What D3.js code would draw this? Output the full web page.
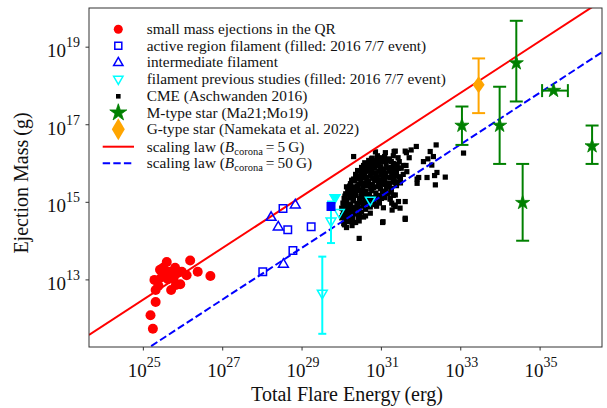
<!DOCTYPE html>
<html><head><meta charset="utf-8">
<script src="https://cdn.jsdelivr.net/npm/d3@7"></script>
<style>
html,body{margin:0;padding:0;background:#fff;}
svg text{font-family:"Liberation Serif","DejaVu Serif",serif;}
</style></head>
<body><svg id="c" width="607" height="408"></svg>
<script>
// ---- data (log10 values) ----
const qrLogE = [25.59,26.18,26.37,26.69,25.97,26.09,25.65,25.28,25.46,25.76,25.62,25.93,25.70,25.31,25.38,25.31,25.18,25.24,25.80,25.50,25.82,25.42,25.86,25.55];
const qrLogM = [13.46,13.50,13.21,13.10,13.21,13.12,13.21,13.00,13.07,13.04,13.02,12.89,12.74,12.74,12.85,12.43,12.09,11.74,13.31,13.31,12.87,13.26,13.18,13.12];

const arfLogE = [28.52,28.64,29.23,28.77,28.01];
const arfLogM = [14.84,14.29,14.37,13.76,13.21];
const arfFilledLogE = [29.73];
const arfFilledLogM = [14.89];

const intLogE = [28.83,28.22,28.40,28.53];
const intLogM = [14.93,14.61,14.36,13.40];

const prevLogE = [29.73,29.94,30.72,29.51];
const prevLogM = [14.52,14.74,15.06,12.66];
const prevErrLo = [13.95,null,null,11.61];
const prevErrHi = [15.02,null,null,13.60];
const prevFilledLogE = [29.83];
const prevFilledLogM = [15.12];

const cmePoints = [
[30.75,16.12],[30.9,16.2],[31.0,16.15],[31.1,16.28],[31.2,16.12],[31.3,16.2],[31.42,16.15],[30.85,16.3],
[30.5,15.9],[30.58,16.02],[30.65,15.85],[30.72,15.97],[30.8,16.05],[30.84,15.88],[30.92,15.95],[31.0,16.05],[31.05,15.86],[31.12,15.98],[31.18,16.08],[31.24,15.9],[31.3,16.0],[31.38,15.87],[31.45,16.05],[31.55,15.95],[30.62,15.95],[30.98,15.92],[31.33,15.92],[30.75,15.84],[31.5,15.88],[30.88,16.08],
[30.3,15.6],[30.35,15.72],[30.42,15.62],[30.48,15.78],[30.52,15.66],[30.58,15.74],[30.63,15.6],[30.68,15.8],[30.72,15.68],[30.78,15.62],[30.83,15.76],[30.88,15.66],[30.94,15.8],[30.99,15.7],[31.04,15.6],[31.1,15.75],[31.15,15.65],[31.2,15.8],[31.26,15.7],[31.32,15.6],[31.38,15.76],[31.45,15.66],[31.55,15.72],[30.4,15.82],[30.9,15.58],[31.0,15.82],
[30.18,15.35],[30.22,15.48],[30.28,15.4],[30.33,15.55],[30.38,15.36],[30.43,15.47],[30.48,15.56],[30.53,15.38],[30.58,15.5],[30.63,15.42],[30.68,15.55],[30.73,15.34],[30.78,15.46],[30.83,15.56],[30.88,15.4],[30.93,15.5],[30.98,15.35],[31.03,15.47],[31.08,15.56],[31.13,15.4],[31.18,15.5],[31.25,15.36],[31.3,15.52],[31.38,15.43],[31.48,15.5],[30.25,15.57],[30.7,15.45],[31.0,15.58],
[30.06,15.1],[30.1,15.22],[30.15,15.3],[30.2,15.12],[30.25,15.24],[30.3,15.08],[30.35,15.18],[30.4,15.3],[30.45,15.1],[30.5,15.22],[30.55,15.14],[30.6,15.28],[30.65,15.08],[30.7,15.2],[30.76,15.3],[30.8,15.12],[30.86,15.24],[30.92,15.08],[30.97,15.18],[31.03,15.28],[31.08,15.12],[31.15,15.22],[31.22,15.08],[31.3,15.18],[30.12,15.05],[30.58,15.06],
[30.0,14.85],[30.03,14.98],[30.08,14.9],[30.13,15.02],[30.18,14.82],[30.23,14.94],[30.28,15.04],[30.33,14.86],[30.38,14.97],[30.43,14.84],[30.48,15.0],[30.53,14.9],[30.6,14.82],[30.66,14.98],[30.72,14.88],[30.8,15.02],[30.88,14.9],[30.95,14.98],[31.05,14.86],[30.1,14.8],
[30.0,14.6],[30.04,14.72],[30.1,14.58],[30.15,14.68],[30.22,14.78],[30.28,14.6],[30.35,14.7],[30.42,14.58],[30.5,14.75],[30.6,14.65],[30.72,14.72],[30.08,14.78],
[30.05,14.45],[30.12,14.35],[30.18,14.5],[30.26,14.4],[30.35,14.48],[30.44,14.52],
[30.55,15.95],[30.68,16.08],[30.95,16.1],[31.08,16.18],[31.25,16.05],[31.4,15.98],[30.45,15.68],[30.6,15.64],[30.75,15.75],[30.86,15.7],[31.06,15.7],[31.22,15.64],[31.35,15.68],[31.48,15.6],
[30.2,15.42],[30.4,15.42],[30.55,15.44],[30.65,15.5],[30.8,15.38],[30.95,15.44],[31.1,15.46],[31.2,15.42],[31.35,15.5],
[30.08,15.16],[30.22,15.2],[30.33,15.25],[30.48,15.16],[30.62,15.18],[30.75,15.1],[30.9,15.16],[31.0,15.1],[31.12,15.3],[31.25,15.26],
[30.05,14.92],[30.16,14.92],[30.26,14.86],[30.4,14.9],[30.55,14.96],[30.7,14.96],[30.84,14.94],
[30.02,14.66],[30.12,14.64],[30.2,14.7],[30.3,14.75],[30.45,14.68],[30.55,14.62],[30.08,14.52],[30.22,14.55],[30.3,14.48],
[30.12,15.4],[30.28,15.3],[30.5,15.32],[30.38,15.62],[30.55,15.82],[30.7,15.9],[30.82,15.95],[31.15,15.88],[31.28,15.82],[31.12,16.08],
[30.30,16.18],[31.88,16.44],[32.38,16.48],[31.63,16.28],[31.32,16.31],[32.23,16.31],[32.31,16.18],[32.06,16.05],[33.07,16.27],[32.61,15.65],[32.40,15.77],[31.90,15.60],[32.36,15.45],[31.60,14.56],[31.04,14.50],[31.31,14.93],[31.47,14.85],[31.27,14.80],[30.44,14.07],[30.07,14.42],[31.75,16.35],[31.70,16.15],[32.17,16.12],[32.27,15.96],[32.15,15.64],[32.34,15.69],[31.94,15.64],[31.90,15.49],[31.62,15.95],[31.64,15.79],[31.43,15.88],[31.43,15.53],[31.35,15.19],[31.43,15.02],[31.26,14.98],[31.35,14.89],[31.22,15.11],[31.60,15.02],[31.60,14.59],[31.35,16.32],[31.60,16.32],[30.77,16.14],[31.03,14.48]
];

const mStarLogE = [33.03,33.98,34.40,35.34,36.31,34.56];
const mStarLogM = [16.98,16.98,18.59,17.88,16.45,14.99];
const mStarErrLo = [16.48,15.99,17.60,null,15.99,14.01];
const mStarErrHi = [17.47,17.98,19.68,null,16.98,15.99];
const mStarXErrLo = [null,null,null,35.05,null,null];
const mStarXErrHi = [null,null,null,35.70,null,null];

const gStarLogE = [33.45];
const gStarLogM = [18.03];
const gStarErrLo = [17.30];
const gStarErrHi = [18.71];

const lawSlope = 2/3;
const lawPivotLogE = 23.63;
const lawLogM5G = 11.58;
const lawLogM50G = 10.25;

const xTickExp = [25,27,29,31,33,35];
const yTickExp = [13,15,17,19];

const legendLabels = [
 "small mass ejections in the QR",
 "active region filament (filled: 2016 7/7 event)",
 "intermediate filament",
 "filament previous studies (filled: 2016 7/7 event)",
 "CME (Aschwanden 2016)",
 "M-type star (Ma21;Mo19)",
 "G-type star (Namekata et al. 2022)"
];

// ---- drawing ----
const FONT = "'Liberation Serif', 'DejaVu Serif', serif";
const svg = d3.select("#c");
const L=89, R=602, T=8, B=347;
const x = d3.scaleLog().domain([Math.pow(10,23.63), Math.pow(10,36.56)]).range([L,R]);
const y = d3.scaleLog().domain([Math.pow(10,11.27), Math.pow(10,20.01)]).range([B,T]);
const X = v => x(Math.pow(10,v));
const Y = v => y(Math.pow(10,v));

const RED="#ff0000", BLUE="#0000ff", CYAN="#00ffff", GREEN="#008000", ORANGE="#ffa500";
const TXT="#111";

svg.append("defs").append("clipPath").attr("id","clip")
  .append("rect").attr("x",L).attr("y",T).attr("width",R-L).attr("height",B-T);

const plot = svg.append("g").attr("clip-path","url(#clip)");

// CME
const cs = 5.2;
plot.append("g").selectAll("rect").data(cmePoints).join("rect")
  .attr("x",d=>X(d[0])-cs/2).attr("y",d=>Y(d[1])-cs/2)
  .attr("width",cs).attr("height",cs).attr("fill","#000");

// scaling law lines
const lawE = [lawPivotLogE, 36.56];
const lineGen = a => d3.line().x(e=>X(e)).y(e=>Y(a + lawSlope*(e-lawPivotLogE)));
plot.append("path").attr("d", lineGen(lawLogM5G)(lawE)).attr("stroke",RED).attr("stroke-width",2).attr("fill","none");
plot.append("path").attr("d", lineGen(lawLogM50G)(lawE)).attr("stroke",BLUE).attr("stroke-width",2).attr("stroke-dasharray","7.4,3.2").attr("fill","none");

// error bar helpers
function vErr(g, xe, lo, hi, color, cap, lw){
  g.append("line").attr("x1",X(xe)).attr("x2",X(xe)).attr("y1",Y(lo)).attr("y2",Y(hi)).attr("stroke",color).attr("stroke-width",lw);
  [lo,hi].forEach(v=>g.append("line").attr("x1",X(xe)-cap/2).attr("x2",X(xe)+cap/2).attr("y1",Y(v)).attr("y2",Y(v)).attr("stroke",color).attr("stroke-width",lw));
}
function hErr(g, ym, lo, hi, color, cap, lw){
  g.append("line").attr("x1",X(lo)).attr("x2",X(hi)).attr("y1",Y(ym)).attr("y2",Y(ym)).attr("stroke",color).attr("stroke-width",lw);
  [lo,hi].forEach(v=>g.append("line").attr("y1",Y(ym)-cap/2).attr("y2",Y(ym)+cap/2).attr("x1",X(v)).attr("x2",X(v)).attr("stroke",color).attr("stroke-width",lw));
}

// QR red circles
plot.append("g").selectAll("circle").data(qrLogE).join("circle")
  .attr("cx",(d)=>X(d)).attr("cy",(d,i)=>Y(qrLogM[i])).attr("r",5).attr("fill",RED);

// cyan previous studies
const gp = plot.append("g");
prevLogE.forEach((e,i)=>{ if(prevErrLo[i]!=null) vErr(gp,e,prevErrLo[i],prevErrHi[i],CYAN,8,2); });
const triDown = d3.symbol().type(d3.symbolTriangle).size(42);
gp.selectAll("path.o").data(prevLogE).join("path").attr("class","o")
  .attr("d",triDown).attr("transform",(d,i)=>`translate(${X(d)},${Y(prevLogM[i])}) rotate(180)`)
  .attr("fill","none").attr("stroke",CYAN).attr("stroke-width",1.5);
gp.selectAll("path.f").data(prevFilledLogE).join("path").attr("class","f")
  .attr("d",triDown).attr("transform",(d,i)=>`translate(${X(d)},${Y(prevFilledLogM[i])}) rotate(180)`)
  .attr("fill",CYAN).attr("stroke",CYAN).attr("stroke-width",1.5);

// blue squares
const sq = d3.symbol().type(d3.symbolSquare).size(56);
plot.append("g").selectAll("path").data(arfLogE).join("path")
  .attr("d",sq).attr("transform",(d,i)=>`translate(${X(d)},${Y(arfLogM[i])})`)
  .attr("fill","none").attr("stroke",BLUE).attr("stroke-width",1.5);
plot.append("g").selectAll("path").data(arfFilledLogE).join("path")
  .attr("d",sq).attr("transform",(d,i)=>`translate(${X(d)},${Y(arfFilledLogM[i])})`)
  .attr("fill",BLUE).attr("stroke",BLUE).attr("stroke-width",1.5);

// blue triangles
const triUp = d3.symbol().type(d3.symbolTriangle).size(42);
plot.append("g").selectAll("path").data(intLogE).join("path")
  .attr("d",triUp).attr("transform",(d,i)=>`translate(${X(d)},${Y(intLogM[i])})`)
  .attr("fill","none").attr("stroke",BLUE).attr("stroke-width",1.5);

// M stars
const gm = plot.append("g");
mStarLogE.forEach((e,i)=>{
  if(mStarErrLo[i]!=null) vErr(gm,e,mStarErrLo[i],mStarErrHi[i],GREEN,13,2);
  if(mStarXErrLo[i]!=null) hErr(gm,mStarLogM[i],mStarXErrLo[i],mStarXErrHi[i],GREEN,13,2);
});
const star = d3.symbol().type(d3.symbolStar).size(62);
gm.selectAll("path.s").data(mStarLogE).join("path").attr("class","s")
  .attr("d",star).attr("transform",(d,i)=>`translate(${X(d)},${Y(mStarLogM[i])})`)
  .attr("fill",GREEN).attr("stroke",GREEN).attr("stroke-width",0.8);

// G star
const gg = plot.append("g");
gStarLogE.forEach((e,i)=>vErr(gg,e,gStarErrLo[i],gStarErrHi[i],ORANGE,13,2));
const diamond = (w,h)=>`M0,${-h}L${w},0L0,${h}L${-w},0Z`;
gg.selectAll("path.d").data(gStarLogE).join("path").attr("class","d")
  .attr("d",diamond(6,8.5)).attr("transform",(d,i)=>`translate(${X(d)},${Y(gStarLogM[i])})`)
  .attr("fill",ORANGE);

// frame
svg.append("rect").attr("x",L).attr("y",T).attr("width",R-L).attr("height",B-T)
  .attr("fill","none").attr("stroke","#333").attr("stroke-width",1);

// ticks
const axG = svg.append("g");
xTickExp.forEach(k=>{
  const px = X(k);
  axG.append("line").attr("x1",px).attr("x2",px).attr("y1",B).attr("y2",B+3.5).attr("stroke","#333");
  const t = axG.append("text").attr("x",px+1).attr("y",377).attr("text-anchor","middle").attr("fill",TXT).style("font-family",FONT).style("font-size","19px");
  t.append("tspan").text("10");
  t.append("tspan").attr("dy",-10).style("font-size","14px").text(k);
});
yTickExp.forEach(k=>{
  const py = Y(k);
  axG.append("line").attr("x1",L-3.5).attr("x2",L).attr("y1",py).attr("y2",py).attr("stroke","#333");
  const t = axG.append("text").attr("x",80).attr("y",py+10).attr("text-anchor","end").attr("fill",TXT).style("font-family",FONT).style("font-size","19px");
  t.append("tspan").text("10");
  t.append("tspan").attr("dy",-10).style("font-size","14px").text(k);
});

// axis labels
svg.append("text").attr("x",347).attr("y",401).attr("text-anchor","middle").attr("fill",TXT).style("font-family",FONT)
  .style("font-size","20px").text("Total Flare Energy\u2009(erg)");
svg.append("text").attr("transform","translate(28,183) rotate(-90)").attr("text-anchor","middle").attr("fill",TXT).style("font-family",FONT)
  .style("font-size","20px").text("Ejection Mass\u2009(g)");

// legend
const lg = svg.append("g");
const rowY = [29.3,45.7,62.3,79,96.3,112.7,129.3,146.7,163.3];
const mx = 118.3, tx = 146.7;
lg.append("circle").attr("cx",mx).attr("cy",rowY[0]).attr("r",4.5).attr("fill",RED);
lg.append("path").attr("d",d3.symbol().type(d3.symbolSquare).size(49)).attr("transform",`translate(${mx},${rowY[1]})`).attr("fill","none").attr("stroke",BLUE).attr("stroke-width",1.5);
lg.append("path").attr("d",d3.symbol().type(d3.symbolTriangle).size(38)).attr("transform",`translate(${mx},${rowY[2]+0.5})`).attr("fill","none").attr("stroke",BLUE).attr("stroke-width",1.5);
lg.append("path").attr("d",d3.symbol().type(d3.symbolTriangle).size(38)).attr("transform",`translate(${mx},${rowY[3]}) rotate(180)`).attr("fill","none").attr("stroke",CYAN).attr("stroke-width",1.5);
lg.append("rect").attr("x",mx-2.3).attr("y",rowY[4]-2.3).attr("width",4.6).attr("height",4.6).attr("fill","#000");
lg.append("path").attr("d",d3.symbol().type(d3.symbolStar).size(90)).attr("transform",`translate(${mx},${rowY[5]})`).attr("fill",GREEN).attr("stroke",GREEN).attr("stroke-width",0.8);
lg.append("path").attr("d",diamond(6.5,11)).attr("transform",`translate(${mx},${rowY[6]})`).attr("fill",ORANGE);
lg.append("line").attr("x1",102.7).attr("x2",134).attr("y1",rowY[7]).attr("y2",rowY[7]).attr("stroke",RED).attr("stroke-width",2);
lg.append("line").attr("x1",102.7).attr("x2",134).attr("y1",rowY[8]).attr("y2",rowY[8]).attr("stroke",BLUE).attr("stroke-width",2).attr("stroke-dasharray","7.4,3.2");

legendLabels.forEach((s,i)=>{
  lg.append("text").attr("x",tx).attr("y",rowY[i]+5).attr("fill",TXT).style("font-family",FONT).style("font-size","15.3px").text(s);
});
["5","50"].forEach((b,j)=>{
  const t = lg.append("text").attr("x",tx).attr("y",rowY[7+j]+5).attr("fill",TXT).style("font-family",FONT).style("font-size","15.3px");
  t.append("tspan").text("scaling law (");
  t.append("tspan").style("font-style","italic").text("B");
  t.append("tspan").attr("dy",3).style("font-size","10.5px").text("corona");
  t.append("tspan").attr("dy",-3).text("\u2009=\u2009" + b + "\u2009G)");
});
</script>
</body></html>
